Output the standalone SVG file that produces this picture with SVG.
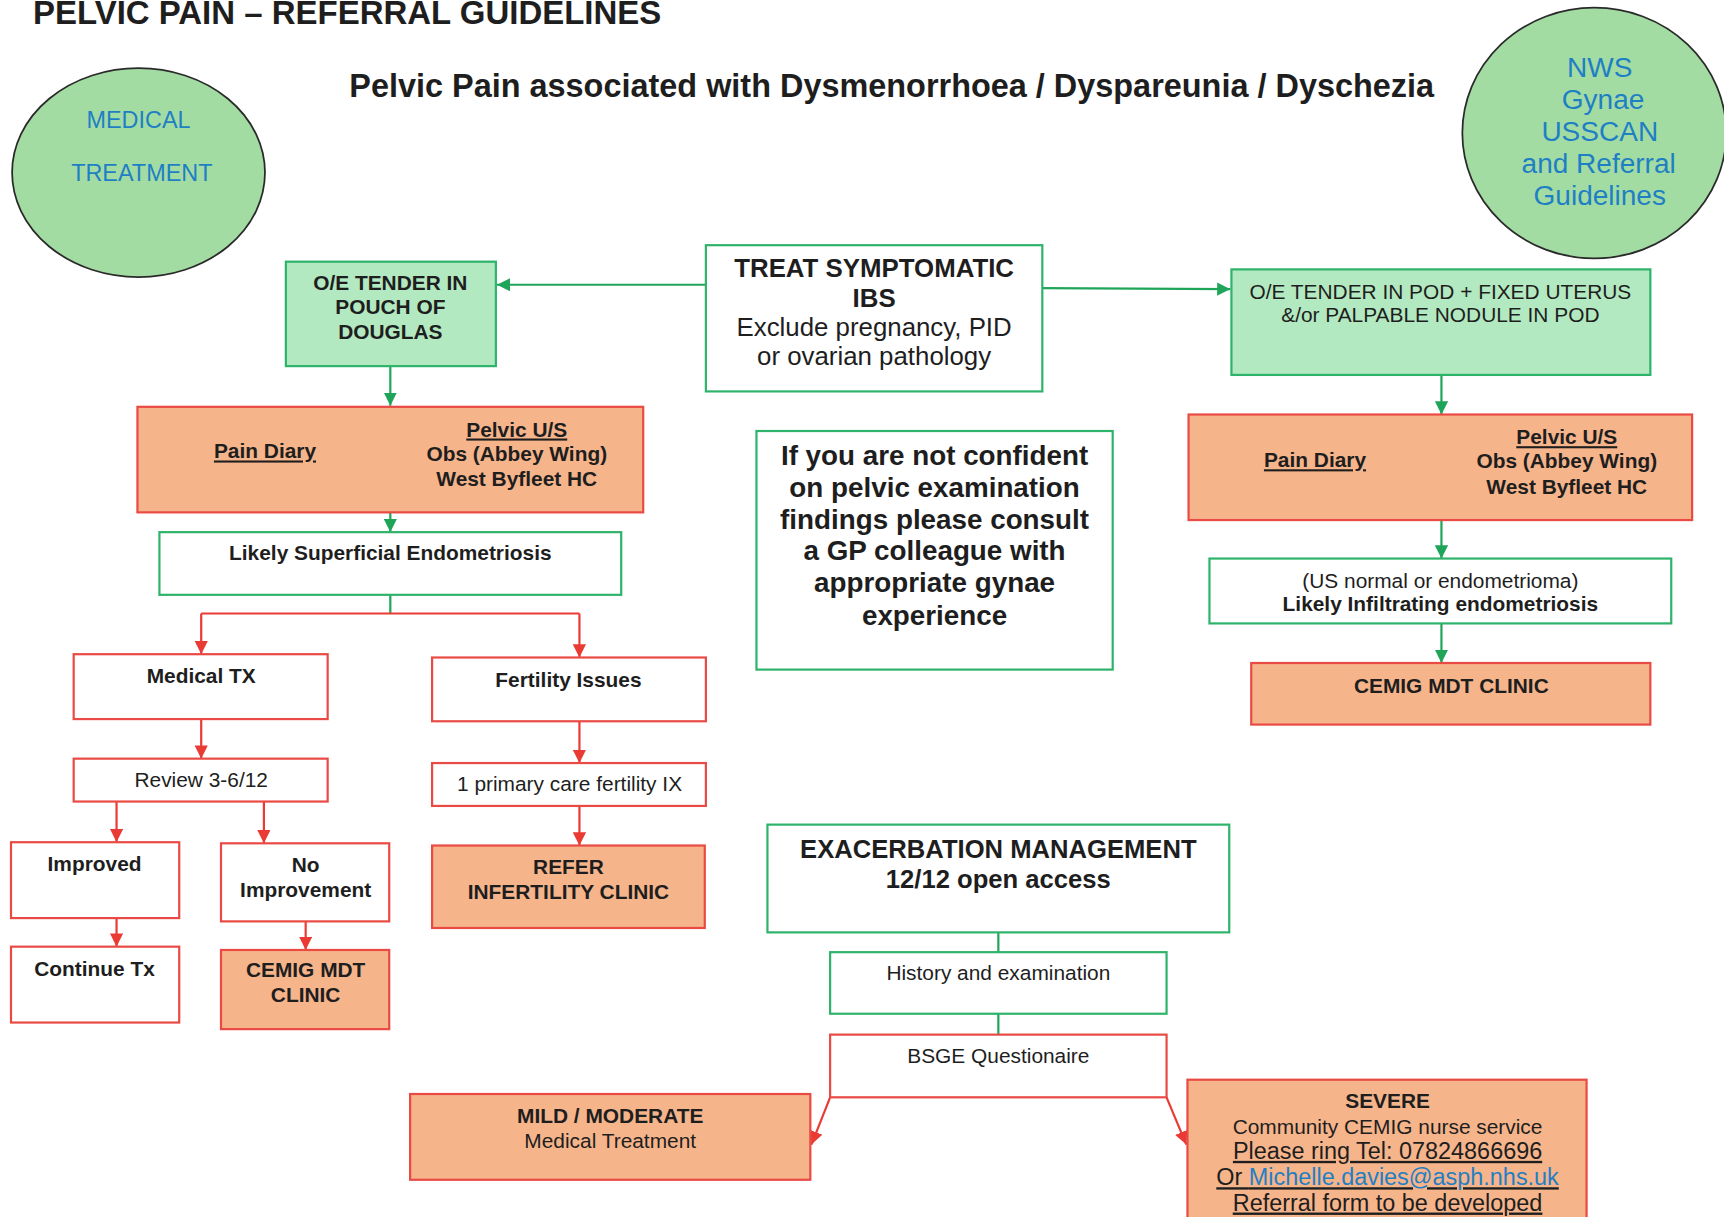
<svg xmlns="http://www.w3.org/2000/svg" width="1724" height="1217" viewBox="0 0 1724 1217">
<style>
text{font-family:"Liberation Sans",Arial,sans-serif;fill:#1e1e1e;text-anchor:middle;font-size:19px}
.b{font-weight:bold}
.u{text-decoration:underline}
.blue{fill:#1f7fc4}
.big{font-size:23.5px}
.nws{font-size:25.5px}
.gbox{fill:#ffffff;stroke:#2eb36a;stroke-width:2}
.gfill{fill:#b3e9c0;stroke:#2eb36a;stroke-width:2}
.rbox{fill:#ffffff;stroke:#ea4a44;stroke-width:2}
.obox{fill:#f6b48b;stroke:#ea4a44;stroke-width:2}
.circ{fill:#a3dca3;stroke:#2a2a2a;stroke-width:1.6}
.gl{stroke:#1fa55a;stroke-width:2;fill:none}
.rl{stroke:#ea3a34;stroke-width:2;fill:none}
.ga{stroke:#1fa55a;stroke-width:2;fill:none;marker-end:url(#ag)}
.ra{stroke:#ea3a34;stroke-width:2;fill:none;marker-end:url(#ar)}
</style>
<defs>
<marker id="ag" markerWidth="12" markerHeight="12" refX="10" refY="5" orient="auto" markerUnits="userSpaceOnUse" viewBox="0 0 10 10"><path d="M0,0 L10,5 L0,10 z" fill="#1fa55a"/></marker>
<marker id="ar" markerWidth="12" markerHeight="12" refX="10" refY="5" orient="auto" markerUnits="userSpaceOnUse" viewBox="0 0 10 10"><path d="M0,0 L10,5 L0,10 z" fill="#ea3a34"/></marker>
</defs>
<rect width="1724" height="1217" fill="#ffffff"/>
<g transform="scale(1.0995)">
<g id="titles">
<text x="30" y="22" class="b" style="text-anchor:start;font-size:30px">PELVIC PAIN – REFERRAL GUIDELINES</text>
<text x="811" y="88" class="b" style="font-size:29.5px">Pelvic Pain associated with Dysmenorrhoea / Dyspareunia / Dyschezia</text>
</g>
<g id="medical-treatment">
<ellipse class="circ" cx="126" cy="157" rx="115" ry="95"/>
<text x="126" y="116" class="blue" style="font-size:21.3px">MEDICAL</text>
<text x="129" y="165" class="blue" style="font-size:21.3px">TREATMENT</text>
</g>
<g id="nws-guidelines">
<ellipse class="circ" cx="1450" cy="121" rx="120" ry="114"/>
<text x="1455" y="70" class="blue nws">NWS</text>
<text x="1458" y="99" class="blue nws">Gynae</text>
<text x="1455" y="128" class="blue nws">USSCAN</text>
<text x="1454" y="157" class="blue nws">and Referral</text>
<text x="1455" y="186" class="blue nws">Guidelines</text>
</g>
<g id="connectors">
<path class="ga" d="M642,259 L452,259"/>
<path class="ga" d="M948,262 L1119,263"/>
<path class="ga" d="M355,333 L355,369"/>
<path class="rl" d="M355,370 L355,466"/>
<path class="ga" d="M355,466 L355,484"/>
<path class="gl" d="M355,541 L355,558"/>
<path class="rl" d="M183,558 L527,558"/>
<path class="ra" d="M183,558 L183,595"/>
<path class="ra" d="M527,558 L527,598"/>
<path class="ra" d="M183,654 L183,690"/>
<path class="ra" d="M527,656 L527,694"/>
<path class="ra" d="M106,729 L106,766"/>
<path class="ra" d="M240,729 L240,767"/>
<path class="ra" d="M106,824 L106,861"/>
<path class="ra" d="M278,826 L278,864"/>
<path class="ra" d="M527,733 L527,769"/>
<path class="ga" d="M1311,341 L1311,377"/>
<path class="rl" d="M1311,377 L1311,473"/>
<path class="ga" d="M1311,473 L1311,508"/>
<path class="ga" d="M1311,567 L1311,603"/>
<path class="gl" d="M908,848 L908,866"/>
<path class="gl" d="M908,922 L908,941"/>
<path class="ra" d="M755,998 L738,1041"/>
<path class="ra" d="M1061,998 L1079,1041"/>
</g>
<g id="treat-symptomatic">
<rect class="gbox" x="642" y="223" width="306" height="133"/>
<text x="795" y="252" class="b big">TREAT SYMPTOMATIC</text>
<text x="795" y="279" class="b big">IBS</text>
<text x="795" y="306" class="big">Exclude pregnancy, PID</text>
<text x="795" y="332" class="big">or ovarian pathology</text>
</g>
<g id="oe-tender-pod-left">
<rect class="gfill" x="260" y="238" width="191" height="95"/>
<text x="355" y="264" class="b">O/E TENDER IN</text>
<text x="355" y="286" class="b">POUCH OF</text>
<text x="355" y="308" class="b">DOUGLAS</text>
</g>
<g id="oe-tender-pod-right">
<rect class="gfill" x="1120" y="245" width="381" height="96"/>
<text x="1310" y="272">O/E TENDER IN POD + FIXED UTERUS</text>
<text x="1310" y="293">&amp;/or PALPABLE NODULE IN POD</text>
</g>
<g id="pain-diary-left">
<rect class="obox" x="125" y="370" width="460" height="96"/>
<text x="241" y="417" class="b u">Pain Diary</text>
<text x="470" y="397" class="b u">Pelvic U/S</text>
<text x="470" y="419" class="b">Obs (Abbey Wing)</text>
<text x="470" y="442" class="b">West Byfleet HC</text>
</g>
<g id="superficial">
<rect class="gbox" x="145" y="484" width="420" height="57"/>
<text x="355" y="509" class="b">Likely Superficial Endometriosis</text>
</g>
<g id="medical-tx">
<rect class="rbox" x="67" y="595" width="231" height="59"/>
<text x="183" y="621" class="b">Medical TX</text>
</g>
<g id="fertility">
<rect class="rbox" x="393" y="598" width="249" height="58"/>
<text x="517" y="625" class="b">Fertility Issues</text>
</g>
<g id="review">
<rect class="rbox" x="67" y="690" width="231" height="39"/>
<text x="183" y="716">Review 3-6/12</text>
</g>
<g id="primary-fertility">
<rect class="rbox" x="393" y="694" width="249" height="39"/>
<text x="518" y="719">1 primary care fertility IX</text>
</g>
<g id="improved">
<rect class="rbox" x="10" y="766" width="153" height="69"/>
<text x="86" y="792" class="b">Improved</text>
</g>
<g id="no-improvement">
<rect class="rbox" x="201" y="767" width="153" height="71"/>
<text x="278" y="793" class="b">No</text>
<text x="278" y="816" class="b">Improvement</text>
</g>
<g id="continue-tx">
<rect class="rbox" x="10" y="861" width="153" height="69"/>
<text x="86" y="888" class="b">Continue Tx</text>
</g>
<g id="cemig-left">
<rect class="obox" x="201" y="864" width="153" height="72"/>
<text x="278" y="889" class="b">CEMIG MDT</text>
<text x="278" y="911" class="b">CLINIC</text>
</g>
<g id="refer-infertility">
<rect class="obox" x="393" y="769" width="248" height="75"/>
<text x="517" y="795" class="b">REFER</text>
<text x="517" y="818" class="b">INFERTILITY CLINIC</text>
</g>
<g id="not-confident">
<rect class="gbox" x="688" y="392" width="324" height="217"/>
<text x="850" y="423" class="b" style="font-size:25.3px">If you are not confident</text>
<text x="850" y="452" class="b" style="font-size:25.3px">on pelvic examination</text>
<text x="850" y="481" class="b" style="font-size:25.3px">findings please consult</text>
<text x="850" y="509" class="b" style="font-size:25.3px">a GP colleague with</text>
<text x="850" y="538" class="b" style="font-size:25.3px">appropriate gynae</text>
<text x="850" y="568" class="b" style="font-size:25.3px">experience</text>
</g>
<g id="pain-diary-right">
<rect class="obox" x="1081" y="377" width="458" height="96"/>
<text x="1196" y="425" class="b u">Pain Diary</text>
<text x="1425" y="404" class="b u">Pelvic U/S</text>
<text x="1425" y="426" class="b">Obs (Abbey Wing)</text>
<text x="1425" y="449" class="b">West Byfleet HC</text>
</g>
<g id="infiltrating">
<rect class="gbox" x="1100" y="508" width="420" height="59"/>
<text x="1310" y="535">(US normal or endometrioma)</text>
<text x="1310" y="556" class="b">Likely Infiltrating endometriosis</text>
</g>
<g id="cemig-right">
<rect class="obox" x="1138" y="603" width="363" height="56"/>
<text x="1320" y="630" class="b">CEMIG MDT CLINIC</text>
</g>
<g id="exacerbation">
<rect class="gbox" x="698" y="750" width="420" height="98"/>
<text x="908" y="780" class="b" style="font-size:23.3px">EXACERBATION MANAGEMENT</text>
<text x="908" y="808" class="b" style="font-size:23.3px">12/12 open access</text>
</g>
<g id="history">
<rect class="gbox" x="755" y="866" width="306" height="56"/>
<text x="908" y="891">History and examination</text>
</g>
<g id="bsge">
<rect class="rbox" x="755" y="941" width="306" height="57"/>
<text x="908" y="967">BSGE Questionaire</text>
</g>
<g id="mild-moderate">
<rect class="obox" x="373" y="995" width="364" height="78"/>
<text x="555" y="1021" class="b">MILD / MODERATE</text>
<text x="555" y="1044">Medical Treatment</text>
</g>
<g id="severe">
<rect class="obox" x="1080" y="982" width="363" height="140"/>
<text x="1262" y="1008" class="b">SEVERE</text>
<text x="1262" y="1031">Community CEMIG nurse service</text>
<text x="1262" y="1054" class="u" style="font-size:21.3px">Please ring Tel: 07824866696</text>
<text x="1262" y="1078" class="u" style="font-size:21.3px">Or <tspan class="blue">Michelle.davies@asph.nhs.uk</tspan></text>
<text x="1262" y="1101" class="u" style="font-size:21.3px">Referral form to be developed</text>
</g>
</g>
</svg>
